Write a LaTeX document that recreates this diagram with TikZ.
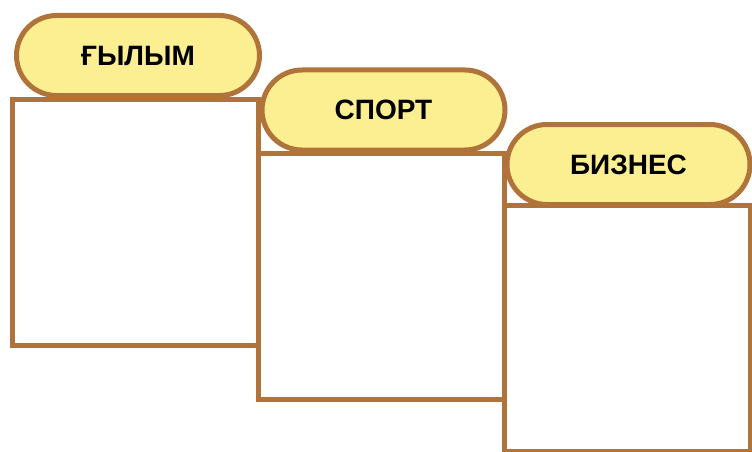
\documentclass[tikz,border=0pt]{standalone}
\usepackage{fontspec}
\setmainfont{Liberation Sans}
\usetikzlibrary{shapes.misc}
\definecolor{cB}{HTML}{B0733A}
\definecolor{cY}{HTML}{FCEF92}
\tikzset{
  panel/.style={draw=cB,line width=5pt,fill=white,minimum width=246pt,
                minimum height=246pt,inner sep=0pt},
  pill/.style={rounded rectangle,draw=cB,line width=5pt,fill=cY,
               minimum width=243pt,minimum height=80pt,inner sep=0pt,
               font=\fontsize{28}{32}\selectfont\bfseries},
}
\begin{document}
\begin{tikzpicture}[x=1pt,y=-1pt]
  \useasboundingbox[fill=white] (0,0) rectangle (752,452);
  \node[panel](p1) at (135,222.5){};
  \node[panel](p2) at (381,276.5){};
  \node[panel](p3) at (627,328){};
  \node[pill](t1) at (138,55.5){ҒЫЛЫМ};
  \node[pill](t2) at (383.5,110){СПОРТ};
  \node[pill](t3) at (628.5,164.5){БИЗНЕС};
\end{tikzpicture}
\end{document}
